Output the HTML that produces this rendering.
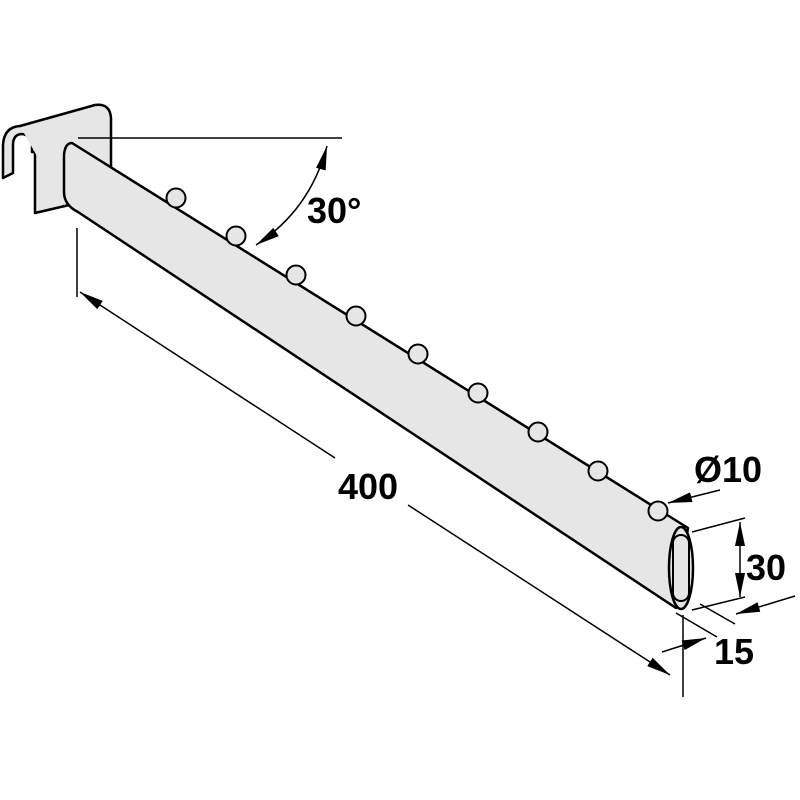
<!DOCTYPE html>
<html><head><style>body{margin:0;background:#fff}svg{display:block}</style></head><body>
<svg width="800" height="800" viewBox="0 0 800 800" xmlns="http://www.w3.org/2000/svg">
<defs>
<marker id="b" viewBox="0 0 10 10" preserveAspectRatio="none" refX="10" refY="5" markerWidth="24" markerHeight="10" orient="auto-start-reverse" markerUnits="userSpaceOnUse"><path d="M0,0L10,5L0,10z" fill="#000"/></marker>
</defs>
<g stroke="#000" stroke-width="2.5" fill="#e6e6e6" stroke-linejoin="round">
<!-- hook -->
<path d="M3,178 L3,145 Q4,127 20,126 Q34,127 35,145 L35,213 L65,206 L65,150 L32,152 L32,145 Q30,134 21,134 Q13,135 13,145 L13,173 Z"/>
<path d="M20,126 L95,105 Q110,103 111,118 L111,195 L65,206"/>
<!-- bar -->
<path d="M72,143 L688,528 L676,608 L78,212 Q64,205 64,192 L64,155 Q65,143 72,143 Z"/>
<ellipse cx="681" cy="568" rx="12" ry="41"/>
<rect x="673" y="535" width="16" height="66" rx="8" ry="8" stroke-width="2"/>
</g>
<g stroke="#000" stroke-width="2" fill="#e6e6e6">
<circle cx="176" cy="198" r="9.5"/><circle cx="236" cy="236" r="9.5"/><circle cx="296" cy="275" r="9.5"/>
<circle cx="356" cy="316" r="9.5"/><circle cx="418" cy="354" r="9.5"/><circle cx="478" cy="393" r="9.5"/>
<circle cx="538" cy="432" r="9.5"/><circle cx="598" cy="471" r="9.5"/><circle cx="658" cy="511" r="9.5"/>
</g>
<g stroke="#000" stroke-width="1.5" fill="none">
<line x1="78" y1="138" x2="342" y2="138"/>
<path d="M327,146 Q310,210 256,245" marker-start="url(#b)" marker-end="url(#b)"/>
<line x1="77" y1="228" x2="77" y2="297"/>
<line x1="80" y1="292" x2="335" y2="458" marker-start="url(#b)"/>
<line x1="408" y1="505" x2="670" y2="675" marker-end="url(#b)"/>
<line x1="683" y1="615" x2="683" y2="697"/>
<line x1="720" y1="490" x2="668" y2="503" marker-end="url(#b)"/>
<line x1="692" y1="532" x2="745" y2="518"/>
<line x1="692" y1="610" x2="745" y2="597"/>
<line x1="740" y1="522" x2="740" y2="597" marker-start="url(#b)" marker-end="url(#b)"/>
<line x1="676" y1="613" x2="717" y2="637"/>
<line x1="700" y1="604" x2="735" y2="624"/>
<line x1="795" y1="596" x2="736" y2="614" marker-end="url(#b)"/>
<line x1="662" y1="652" x2="706" y2="638" marker-end="url(#b)"/>
</g>
<g font-family="Liberation Sans, sans-serif" font-weight="bold" font-size="36" fill="#000">
<text x="307" y="223">30°</text>
<text x="338" y="499">400</text>
<text x="694" y="482">Ø10</text>
<text x="746" y="580">30</text>
<text x="714" y="664">15</text>
</g>
</svg>
</body></html>
